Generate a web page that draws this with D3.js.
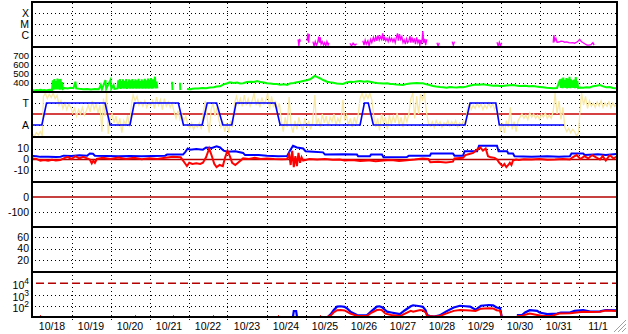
<!DOCTYPE html>
<html>
<head>
<meta charset="utf-8">
<script src="https://cdn.jsdelivr.net/npm/d3@7"></script>
<style>
  html, body { margin: 0; padding: 0; background: #fff; }
  svg { display: block; font-family: "Liberation Sans", Arial, sans-serif; font-size: 10.5px; }
</style>
</head>
<body>
<div id="visContainer"></div>
<script>
// time axis: days since 10/18 00:00
const dayLabels = ["10/18","10/19","10/20","10/21","10/22","10/23","10/24","10/25","10/26","10/27","10/28","10/29","10/30","10/31","11/1"];

// panel 1: x-ray flux, in units of C1 (1e-6)
const xrayFlux = [
  [6.80,null],[6.81,0.4],[6.83,0.1],[6.85,0.45],[6.87,0.25],[6.88,null],
  [7.03,null],[7.04,0.3],[7.06,1.4],[7.08,0.2],[7.10,1.2],[7.11,null],
  [7.18,null],[7.19,0.25],[7.22,0.1],[7.25,0.25],[7.28,0.12],[7.31,0.2],[7.34,0.7],[7.36,0.2],[7.38,0.6],[7.40,0.15],[7.43,0.25],[7.46,0.12],[7.49,0.2],[7.52,0.1],[7.55,0.25],[7.58,0.12],[7.60,0.2],[7.61,null],
  [8.13,null],[8.14,0.18],[8.18,0.1],[8.22,0.18],[8.27,0.12],[8.31,0.16],[8.32,null],
  [8.46,null],[8.47,0.3],[8.50,0.12],[8.53,0.35],[8.56,0.15],[8.60,0.3],[8.63,0.1],[8.67,0.4],[8.70,0.2],[8.74,0.6],[8.77,0.25],[8.80,0.8],[8.83,0.3],[8.86,0.9],[8.89,0.35],[8.92,0.7],[8.95,0.4],[8.98,1.4],[9.00,0.3],[9.03,0.6],[9.06,0.3],[9.09,0.5],[9.12,0.25],[9.15,0.6],[9.18,0.3],[9.21,0.5],[9.24,0.25],[9.27,0.45],[9.30,0.2],[9.33,0.6],[9.36,1.4],[9.38,0.3],[9.41,1.2],[9.44,0.4],[9.47,0.7],[9.50,0.2],[9.53,0.35],[9.56,0.15],[9.59,0.45],[9.62,0.2],[9.65,0.3],[9.68,0.8],[9.70,0.2],[9.73,0.6],[9.76,0.2],[9.79,0.5],[9.82,0.15],[9.85,0.6],[9.88,0.2],[9.91,0.4],[9.93,0.1],[9.95,0.35],[9.98,0.15],[10.01,2.3],[10.03,0.2],[10.06,0.45],[10.08,0.12],[10.11,0.4],[10.13,null],
  [10.36,null],[10.37,0.2],[10.40,0.1],[10.43,0.2],[10.44,null],
  [10.75,null],[10.76,0.25],[10.79,0.12],[10.82,0.25],[10.83,null],
  [11.08,null],[11.09,0.1],[11.10,null],
  [11.90,null],[11.91,0.22],[11.94,0.1],[11.97,0.22],[12.00,0.1],[12.03,0.2],[12.04,null],
  [12.82,null],[12.83,0.15],[12.84,null],
  [13.34,null],[13.35,0.2],[13.37,1.0],[13.39,0.3],[13.42,0.5],[13.45,0.22],[13.50,0.23],[13.55,0.28],[13.60,0.26],[13.65,0.22],[13.70,0.24],[13.75,0.2],[13.80,0.19],[13.85,0.2],[13.90,0.18],[13.95,0.22],[14.00,0.3],[14.03,0.4],[14.07,0.25],[14.12,0.2],[14.17,0.15],[14.22,0.12],[14.27,0.12],[14.32,0.13],[14.37,0.2],[14.40,0.12],[14.41,null]
];

// panel 2: solar wind speed, km/s
const windSpeed = [
  [0.00,322],[0.05,318],[0.10,322],[0.15,320],[0.20,324],[0.25,320],[0.30,322],[0.35,318],[0.40,322],[0.45,325],[0.50,322],
  [0.52,430],[0.54,325],[0.56,444],[0.58,330],[0.60,420],[0.62,328],[0.64,450],[0.66,330],[0.68,440],[0.70,325],[0.72,445],[0.74,330],[0.76,410],[0.78,335],
  [0.82,344],[0.90,340],[0.98,346],[1.05,342],[1.10,414],[1.12,340],[1.20,335],[1.30,330],[1.40,334],[1.50,328],[1.60,332],[1.70,330],[1.75,378],[1.78,330],[1.87,433],[1.89,335],[2.00,433],[2.02,335],[2.08,378],[2.10,335],[2.18,340],
  [2.20,430],[2.22,340],[2.24,444],[2.26,335],[2.28,420],[2.30,340],[2.32,440],[2.34,338],[2.36,425],[2.38,340],[2.40,444],[2.42,335],[2.44,415],[2.46,340],[2.48,440],[2.50,338],[2.52,430],[2.54,340],[2.56,444],[2.58,338],[2.60,425],[2.62,340],[2.64,440],[2.66,336],[2.68,430],[2.70,340],[2.72,445],[2.74,338],[2.76,420],[2.78,340],[2.80,440],[2.82,336],[2.84,428],[2.86,340],[2.88,446],[2.90,338],[2.92,430],[2.94,340],[2.96,450],[2.98,336],[3.00,435],[3.02,340],[3.04,455],[3.06,338],[3.08,440],[3.10,340],[3.14,470],[3.16,340],[3.18,414],[3.20,340],[3.22,null],
  [3.57,null],[3.58,414],[3.59,322],[3.60,null],[3.77,null],[3.78,403],[3.79,322],[3.80,null],
  [3.96,333],[4.05,330],[4.10,336],[4.17,340],[4.25,338],[4.35,344],[4.45,342],[4.55,350],[4.65,352],[4.72,360],[4.81,363],[4.90,385],[4.98,395],[5.06,408],[5.15,400],[5.25,405],[5.32,395],[5.40,397],[5.50,410],[5.60,415],[5.68,412],[5.76,422],[5.85,410],[5.93,405],[6.01,397],[6.10,395],[6.18,390],[6.27,389],[6.35,380],[6.45,385],[6.53,378],[6.60,395],[6.70,400],[6.78,408],[6.86,415],[6.94,422],[7.03,430],[7.12,441],[7.18,460],[7.24,478],[7.28,470],[7.32,463],[7.38,450],[7.45,433],[7.50,425],[7.55,414],[7.63,408],[7.71,403],[7.80,395],[7.88,392],[7.96,389],[8.05,405],[8.14,414],[8.22,410],[8.30,418],[8.40,422],[8.50,415],[8.58,420],[8.65,414],[8.75,405],[8.83,400],[8.91,397],[9.00,394],[9.10,398],[9.17,390],[9.24,389],[9.33,383],[9.42,380],[9.50,378],[9.60,390],[9.68,395],[9.76,397],[9.85,400],[9.94,397],[10.01,397],[10.10,385],[10.18,378],[10.27,367],[10.35,360],[10.45,355],[10.53,352],[10.62,348],[10.70,355],[10.78,352],[10.88,350],[10.96,355],[11.04,352],[11.12,360],[11.20,370],[11.29,378],[11.38,382],[11.46,380],[11.55,386],[11.63,380],[11.72,375],[11.81,370],[11.90,372],[11.98,366],[12.06,367],[12.15,372],[12.24,376],[12.32,378],[12.40,372],[12.48,368],[12.55,367],[12.63,370],[12.72,365],[12.83,367],[12.92,360],[13.00,356],[13.09,352],[13.18,348],[13.27,345],[13.35,341],[13.45,345],
  [13.53,440],[13.55,345],[13.57,450],[13.59,342],[13.61,460],[13.63,348],[13.65,435],[13.67,345],[13.69,455],[13.71,340],[13.73,445],[13.75,345],[13.77,470],[13.79,342],[13.81,440],[13.83,348],[13.85,430],[13.87,345],[13.89,438],[13.91,342],[13.93,465],[13.95,345],[13.97,420],[13.99,345],
  [14.04,350],[14.12,348],[14.20,352],[14.29,350],[14.38,365],[14.46,370],[14.55,378],[14.63,362],[14.71,352],[14.80,356],[14.88,345],[14.97,341]
];

// panel 3: A (0) / T (1) state and the noisy trace
const stateAT = [[0,0],[0.24,0],[0.36,1],[1.86,1],[1.99,0],[2.50,0],[2.61,1],[3.74,1],[3.87,0],[4.35,0],[4.48,1],[4.72,1],[4.88,0],[5.11,0],[5.22,1],[6.22,1],[6.35,0],[8.40,0],[8.51,1],[8.61,1],[8.74,0],[11.09,0],[11.22,1],[11.88,1],[11.97,0],[13.63,0]];
const traceAT = [
  [0.00,-0.4],[0.05,-0.5],[0.10,-0.35],[0.15,-0.45],[0.20,-0.3],[0.25,-0.5],[0.28,1.3],[0.33,1.45],[0.38,1.2],[0.43,1.4],[0.48,1.25],[0.53,1.45],[0.58,1.2],[0.63,1.35],[0.68,0.9],[0.73,1.1],[0.78,0.75],[0.83,1.0],[0.88,0.7],[0.93,0.95],[0.98,0.8],[1.03,0.55],[1.08,0.75],[1.13,0.4],[1.18,0.7],[1.23,0.5],[1.28,0.8],[1.33,0.45],[1.38,0.65],[1.43,0.9],[1.48,0.6],[1.53,1.1],[1.58,0.7],[1.63,0.95],[1.68,0.55],[1.73,0.9],[1.78,-0.3],[1.82,1.2],[1.86,0.4],[1.90,1.45],[1.94,-0.4],[1.99,0.3],
  [2.04,0.5],[2.09,0.1],[2.14,0.4],[2.19,-0.05],[2.24,0.3],[2.29,-0.35],[2.34,0.2],[2.39,0.0],[2.44,0.45],[2.49,-0.1],[2.54,1.0],[2.58,1.36],[2.63,1.1],[2.68,1.3],[2.73,0.9],[2.78,1.05],[2.83,0.85],[2.88,1.1],[2.93,0.8],[2.98,1.0],[3.03,0.9],[3.08,1.1],[3.13,0.75],[3.18,1.27],[3.23,0.9],[3.28,1.15],[3.33,0.7],[3.38,1.2],[3.43,0.85],[3.48,1.05],[3.53,0.8],[3.58,1.0],[3.63,0.6],[3.68,0.3],[3.73,0.65],[3.78,0.25],[3.83,0.5],[3.88,0.2],[3.93,0.4],[3.98,0.05],
  [4.03,-0.15],[4.08,0.1],[4.13,-0.2],[4.18,0.0],[4.23,-0.1],[4.28,0.1],[4.33,-0.2],[4.38,0.6],[4.43,1.1],[4.48,0.3],[4.53,-0.35],[4.58,0.7],[4.63,1.0],[4.68,0.4],[4.73,0.8],[4.78,0.2],[4.83,-0.1],[4.88,0.15],[4.93,-0.3],[4.98,0.1],[5.03,-0.35],[5.08,0.2],[5.13,-0.1],[5.18,1.0],[5.23,1.3],[5.28,0.95],[5.33,1.2],[5.38,0.85],[5.43,1.36],[5.48,0.9],[5.53,1.2],[5.58,0.85],[5.63,1.1],[5.68,1.45],[5.73,0.9],[5.78,1.15],[5.83,0.8],[5.88,1.25],[5.93,0.95],[5.98,1.1],
  [6.03,1.45],[6.08,0.7],[6.13,1.3],[6.18,0.8],[6.23,1.1],[6.28,0.7],[6.33,1.0],[6.38,0.2],[6.43,-0.3],[6.48,0.35],[6.53,-0.1],[6.58,1.27],[6.63,0.0],[6.68,-0.35],[6.73,0.2],[6.78,-0.2],[6.83,0.35],[6.88,0.0],[6.93,-0.25],[6.98,0.3],[7.03,-0.1],[7.08,0.2],[7.13,-0.2],[7.18,0.1],[7.24,1.36],[7.28,0.0],[7.33,0.3],[7.38,-0.1],[7.43,0.5],[7.48,0.1],[7.53,0.4],[7.58,-0.05],[7.63,0.35],[7.68,0.15],[7.73,0.5],[7.78,0.0],[7.83,0.3],[7.88,0.1],[7.93,0.55],[7.96,1.14],
  [8.00,0.2],[8.05,0.45],[8.10,0.0],[8.15,0.3],[8.20,-0.1],[8.25,0.35],[8.30,0.05],[8.35,0.45],[8.40,1.2],[8.45,1.45],[8.50,1.15],[8.55,1.4],[8.60,1.2],[8.65,1.45],[8.70,1.15],[8.75,0.4],[8.80,-0.1],[8.85,0.3],[8.90,-0.25],[8.95,0.5],[9.00,0.1],[9.05,0.35],[9.10,-0.2],[9.15,0.45],[9.20,0.05],[9.25,0.4],[9.30,0.1],[9.35,0.55],[9.40,0.0],[9.45,0.35],[9.50,-0.1],[9.55,0.45],[9.60,0.15],[9.65,0.5],[9.70,1.2],[9.75,1.45],[9.80,0.3],[9.85,1.3],[9.90,0.5],[9.95,1.4],
  [10.00,1.15],[10.05,1.45],[10.10,0.6],[10.15,0.1],[10.20,-0.05],[10.25,0.15],[10.30,-0.1],[10.35,0.2],[10.40,0.0],[10.45,0.15],[10.50,-0.1],[10.55,0.1],[10.60,0.0],[10.65,0.2],[10.70,-0.05],[10.75,0.15],[10.80,0.0],[10.85,0.2],[10.90,-0.1],[10.95,0.1],[11.00,0.0],[11.05,0.2],[11.10,-0.05],[11.15,0.75],[11.20,0.95],[11.25,0.7],[11.30,0.9],[11.35,0.75],[11.40,1.0],[11.45,0.8],[11.50,0.95],[11.55,0.7],[11.60,0.9],[11.65,0.75],[11.70,1.0],[11.75,0.8],[11.80,0.95],[11.85,0.7],[11.90,0.9],[11.95,0.2],
  [12.00,-0.3],[12.05,0.1],[12.10,-0.36],[12.15,0.2],[12.20,-0.1],[12.25,0.8],[12.30,-0.2],[12.35,0.15],[12.40,-0.3],[12.45,0.2],[12.50,0.35],[12.55,0.5],[12.60,0.3],[12.65,0.45],[12.70,0.25],[12.75,0.55],[12.80,0.35],[12.85,0.5],[12.90,0.3],[12.95,0.45],[13.00,0.25],[13.05,0.5],[13.10,0.35],[13.15,0.55],[13.20,0.3],[13.25,0.45],[13.30,0.3],[13.35,0.6],[13.40,1.45],[13.45,0.5],[13.50,1.1],[13.55,0.25],[13.60,0.8],[13.65,-0.1],[13.70,-0.3],[13.75,-0.15],[13.80,-0.35],[13.85,-0.2],[13.90,-0.3],[13.95,-0.5],
  [14.00,-0.35],[14.04,0.7],[14.08,1.45],[14.13,0.9],[14.18,1.3],[14.23,0.75],[14.28,1.1],[14.33,0.85],[14.38,1.0],[14.43,0.8],[14.48,1.05],[14.53,0.85],[14.58,1.1],[14.63,0.8],[14.68,1.0],[14.73,0.85],[14.78,1.05],[14.83,0.8],[14.88,1.0],[14.93,0.85],[14.97,0.95]
];

// panel 4: field, nT
const fieldBlue = [[0.00,3.3],[0.10,3.0],[0.20,2.4],[0.40,2.5],[0.60,2.3],[0.72,2.6],[0.80,3.5],[1.00,3.3],[1.20,3.8],[1.40,3.5],[1.47,5.5],[1.55,5.2],[1.60,3.5],[1.90,3.2],[2.20,3.0],[2.50,3.3],[2.80,3.0],[3.10,3.3],[3.40,3.5],[3.45,4.5],[3.86,4.5],[3.92,7],[3.98,10],[4.04,9],[4.20,9.5],[4.37,9],[4.45,11],[4.60,10.5],[4.72,12],[4.81,11],[4.90,8],[5.00,7],[5.20,7.5],[5.40,6],[5.45,4],[5.80,4.2],[6.01,3.5],[6.30,3],[6.53,3.2],[6.60,8],[6.68,12.5],[6.78,11],[6.94,10],[7.00,7.5],[7.20,7],[7.45,6.5],[7.50,4.5],[8.00,4.8],[8.32,4.5],[8.35,3],[8.65,3],[8.68,4.5],[8.96,4.5],[9.00,2],[9.60,2.2],[9.65,3.5],[10.19,3.5],[10.22,5.5],[10.78,5.5],[10.82,3.5],[11.04,3.5],[11.08,7.5],[11.40,7.5],[11.45,12.5],[11.91,12.5],[11.95,7.5],[12.17,7.5],[12.20,5.5],[12.32,5.5],[12.36,3],[12.80,2.5],[13.20,3],[13.50,2.5],[13.78,3],[13.82,5.5],[14.12,5.5],[14.16,4.2],[14.50,4.8],[14.70,4.2],[14.97,5]];
const fieldRed = [[0.00,0.9],[0.10,0.5],[0.20,-1],[0.30,-0.5],[0.40,-1.2],[0.50,-0.3],[0.60,-1],[0.71,-0.5],[0.80,1],[0.90,2.5],[1.00,0.5],[1.10,3],[1.20,1],[1.30,2.5],[1.40,1],[1.47,0],[1.52,-3.6],[1.56,-1],[1.60,-3],[1.65,0.5],[1.80,1.5],[2.00,0.5],[2.20,1.8],[2.40,0.5],[2.60,1.5],[2.80,0.3],[3.00,1.2],[3.20,0.5],[3.40,1.5],[3.60,2.5],[3.80,2],[3.90,-3],[3.96,-6],[4.02,-3],[4.10,-4],[4.20,-3.5],[4.30,-4],[4.37,-3],[4.45,2],[4.53,10],[4.60,3],[4.66,-4],[4.72,-7],[4.80,-5],[4.88,-6],[4.94,2],[5.00,8],[5.06,3],[5.12,-3],[5.20,-5],[5.30,-2],[5.40,1],[5.55,0.5],[5.70,1.5],[5.85,0.5],[6.01,1],[6.20,0.5],[6.40,0.3],[6.53,0.5],[6.58,5],[6.62,-5],[6.66,8],[6.70,-7],[6.74,3],[6.78,-6],[6.82,6],[6.86,-3],[6.90,2],[6.94,-1],[7.10,0.5],[7.30,0],[7.50,0.5],[7.70,-0.3],[7.88,0],[8.00,-1],[8.20,-0.5],[8.40,-1.3],[8.60,-0.8],[8.80,-1.5],[9.00,-1],[9.20,-0.5],[9.40,-1.3],[9.60,-0.8],[9.80,0],[10.00,1],[10.15,0.5],[10.20,-2.5],[10.40,-2],[10.60,-2.8],[10.78,-2],[10.82,1],[11.04,1.5],[11.10,4],[11.20,5],[11.30,6],[11.40,9],[11.48,11],[11.55,8],[11.62,10],[11.68,3],[11.75,2],[11.85,1.5],[11.91,0],[11.97,-3],[12.05,-6],[12.10,-4],[12.15,-7],[12.20,-5],[12.24,-3],[12.28,-5],[12.32,-1],[12.40,0],[12.47,-0.5],[12.60,0.3],[12.80,0],[13.00,0.5],[13.20,-0.3],[13.40,0],[13.60,0.5],[13.78,0],[13.85,2],[13.95,4],[14.05,0.5],[14.15,3],[14.25,1],[14.35,4],[14.45,2],[14.55,0],[14.62,3],[14.70,-1],[14.80,4],[14.90,1],[14.97,2.5]];

// panel 7: particle flux (log)
const fluxBlue = [[6.67,null],[6.68,12],[6.70,34],[6.76,34],[6.78,12],[6.79,null],
  [7.58,11],[7.65,18],[7.72,40],[7.81,83],[7.90,90],[8.00,80],[8.06,60],[8.15,30],[8.32,15],[8.45,14],[8.58,15],[8.70,35],[8.83,83],[8.90,90],[8.96,75],[9.05,40],[9.09,30],[9.20,25],[9.35,20],[9.42,18],[9.55,40],[9.70,90],[9.76,110],[9.94,90],[10.01,80],[10.08,40],[10.12,15],[10.19,12],[10.30,11],[10.44,14],[10.60,30],[10.80,70],[10.96,100],[11.10,90],[11.22,83],[11.36,45],[11.40,55],[11.50,100],[11.70,117],[11.81,110],[11.90,70],[11.99,60],[12.03,11],[12.04,null],
  [12.42,15],[12.55,15],[12.63,25],[12.75,40],[12.94,35],[13.00,25],[13.20,18],[13.45,20],[13.55,25],[13.78,25],[13.90,35],[14.12,40],[14.30,30],[14.55,32],[14.70,42],[14.97,40]];
const fluxRed = [[7.58,11],[7.65,14],[7.72,25],[7.81,40],[7.90,42],[8.00,38],[8.06,30],[8.15,20],[8.32,13],[8.45,12],[8.58,13],[8.70,25],[8.83,42],[8.90,45],[8.96,40],[9.05,20],[9.20,15],[9.42,12],[9.55,20],[9.70,35],[9.76,30],[9.94,42],[10.01,38],[10.08,25],[10.12,12],[10.30,11],[10.44,12],[10.60,20],[10.80,35],[10.96,42],[11.10,40],[11.22,38],[11.36,35],[11.50,55],[11.70,60],[11.81,58],[11.90,40],[11.99,35],[12.03,11],[12.04,null],
  [12.42,12],[12.55,12],[12.63,16],[12.75,20],[12.94,15],[13.10,12],[13.30,12],[13.50,20],[13.78,22],[14.12,30],[14.30,28],[14.55,30],[14.70,38],[14.97,35]];
const fluxRedDots = [0.19, 2.63, 3.60, 4.63, 6.29, 7.37];

function renderVisualisation() {
    const width = 628, height = 334;
    const left = 32, right = 617, top = 2, panelH = 45;
    const bottom = top + 7 * panelH;

    const svg = d3.select('#visContainer').append("svg")
        .attr("width", width)
        .attr("height", height);

    const x = d3.scaleLinear().domain([0, 15]).range([32.5, 617.5]);
    const pTop = i => top + i * panelH;

    const y1 = d3.scaleLog().domain([0.0811, 1000]).range([pTop(1), pTop(0)]);
    const y2 = d3.scaleLinear().domain([300, 800]).range([pTop(2), pTop(1)]);
    const y3 = d3.scaleLinear().domain([-0.545, 1.5]).range([pTop(3), pTop(2)]);
    const y4 = d3.scaleLinear().domain([-20.5, 20.5]).range([pTop(4), pTop(3)]);
    const y5 = d3.scaleLinear().domain([-200, 100]).range([pTop(5), pTop(4)]);
    const y6 = d3.scaleLinear().domain([0, 77]).range([pTop(6), pTop(5)]);
    const y7 = d3.scaleLog().domain([10, 1e5]).range([pTop(7), pTop(6)]);

    // clip paths, one per panel
    const defs = svg.append("defs");
    d3.range(7).forEach(i => {
        defs.append("clipPath").attr("id", "clip" + i)
            .append("rect")
            .attr("x", left).attr("y", pTop(i))
            .attr("width", right - left).attr("height", panelH);
    });

    const grid = svg.append("g").attr("stroke", "#000").attr("stroke-width", 1).attr("stroke-dasharray", "1,3");

    function hDots(y) {
        const yy = Math.round(y) + 0.5;
        grid.append("line").attr("x1", left + 3).attr("x2", right).attr("y1", yy).attr("y2", yy);
    }

    // vertical day lines
    d3.range(1, 15).forEach(d => {
        const xx = Math.round(x(d)) + 0.5;
        grid.append("line").attr("x1", xx).attr("x2", xx).attr("y1", top + 1).attr("y2", bottom + 3);
    });

    [1, 10, 100].forEach(v => hDots(y1(v)));
    [400, 500, 600, 700].forEach(v => hDots(y2(v)));
    [0, 1].forEach(v => hDots(y3(v)));
    [-10, 10].forEach(v => hDots(y4(v)));
    [-100].forEach(v => hDots(y5(v)));
    [20, 40, 60].forEach(v => hDots(y6(v)));
    [100, 1000].forEach(v => hDots(y7(v)));

    // reference lines
    const ref = svg.append("g").attr("stroke", "#b40000").attr("stroke-width", 1.5);
    ref.append("line").attr("x1", left).attr("x2", right).attr("y1", y3(0.5)).attr("y2", y3(0.5)).attr("stroke", "#c80000");
    ref.append("line").attr("x1", left).attr("x2", right).attr("y1", y4(0)).attr("y2", y4(0));
    ref.append("line").attr("x1", left).attr("x2", right).attr("y1", y5(0)).attr("y2", y5(0));
    ref.append("line").attr("x1", left + 4).attr("x2", right).attr("y1", y7(1e4)).attr("y2", y7(1e4))
        .attr("stroke-dasharray", "8,4");

    function drawLine(data, y, color, w, panel) {
        const line = d3.line()
            .defined(d => d[1] != null)
            .x(d => x(d[0]))
            .y(d => y(d[1]));
        svg.append("path")
            .datum(data)
            .attr("clip-path", `url(#clip${panel})`)
            .attr("fill", "none")
            .attr("stroke", color)
            .attr("stroke-width", w)
            .attr("stroke-linejoin", "miter")
            .attr("d", line);
    }

    drawLine(xrayFlux, y1, "#ff00ff", 1.3, 0);
    drawLine(windSpeed, y2, "#00ff00", 2, 1);
    drawLine(traceAT, y3, "#f8e8a4", 1.3, 2);
    drawLine(stateAT, y3, "#0000ff", 1.6, 2);
    drawLine(fieldBlue, y4, "#0000ff", 2, 3);
    drawLine(fieldRed, y4, "#ff0000", 2, 3);
    drawLine(fluxBlue, y7, "#0000ff", 2.2, 6);
    drawLine(fluxRed, y7, "#ff0000", 2, 6);

    svg.append("g").selectAll("rect")
        .data(fluxRedDots)
        .join("rect")
        .attr("x", d => Math.round(x(d)))
        .attr("y", y7(12) - 1)
        .attr("width", 1).attr("height", 2)
        .attr("fill", "#ff0000");

    // panel frames
    const frame = svg.append("g").attr("stroke", "#000").attr("fill", "none");
    d3.range(8).forEach(i => {
        frame.append("line").attr("x1", left).attr("x2", right + 1)
            .attr("y1", pTop(i)).attr("y2", pTop(i)).attr("stroke-width", 2);
    });
    frame.append("line").attr("x1", left).attr("x2", left).attr("y1", top - 1).attr("y2", bottom + 1).attr("stroke-width", 2);
    frame.append("line").attr("x1", right).attr("x2", right).attr("y1", top - 1).attr("y2", bottom + 1).attr("stroke-width", 2);

    // y labels
    const labels = svg.append("g").attr("text-anchor", "end").attr("fill", "#000");
    function yLabel(y, t, size) {
        labels.append("text").attr("x", 29).attr("y", y).attr("dy", "0.36em")
            .attr("font-size", size || null).text(t);
    }
    yLabel(y1(100), "X"); yLabel(y1(10), "M"); yLabel(y1(1), "C");
    [700, 600, 500, 400].forEach(v => yLabel(y2(v), v, "9.5px"));
    yLabel(y3(1), "T"); yLabel(y3(0), "A");
    [10, 0, -10].forEach(v => yLabel(y4(v), v));
    [0, -100].forEach(v => yLabel(y5(v), v));
    [60, 40, 20].forEach(v => yLabel(y6(v), v));
    [4, 3, 2].forEach(p => {
        const t = labels.append("text").attr("x", 29).attr("y", y7(Math.pow(10, p)) + 6);
        t.append("tspan").text("10");
        t.append("tspan").attr("dy", -5).attr("font-size", "8.5px").text(p);
    });

    // date labels at noon of each day
    svg.append("g").attr("text-anchor", "middle")
        .selectAll("text")
        .data(dayLabels)
        .join("text")
        .attr("x", (d, i) => x(i + 0.5))
        .attr("y", 330)
        .text(d => d);

    // window resize grip in the corner
    const grip = svg.append("g").attr("stroke-width", 1);
    [4, 8, 12].forEach(k => {
        grip.append("line").attr("x1", 626 - k).attr("y1", 332).attr("x2", 626).attr("y2", 332 - k).attr("stroke", "#a0a0a0");
        grip.append("line").attr("x1", 627 - k).attr("y1", 332).attr("x2", 626).attr("y2", 333 - k).attr("stroke", "#fff");
    });
}

document.addEventListener("DOMContentLoaded", function(event) {
    renderVisualisation()
});
</script>
</body>
</html>
